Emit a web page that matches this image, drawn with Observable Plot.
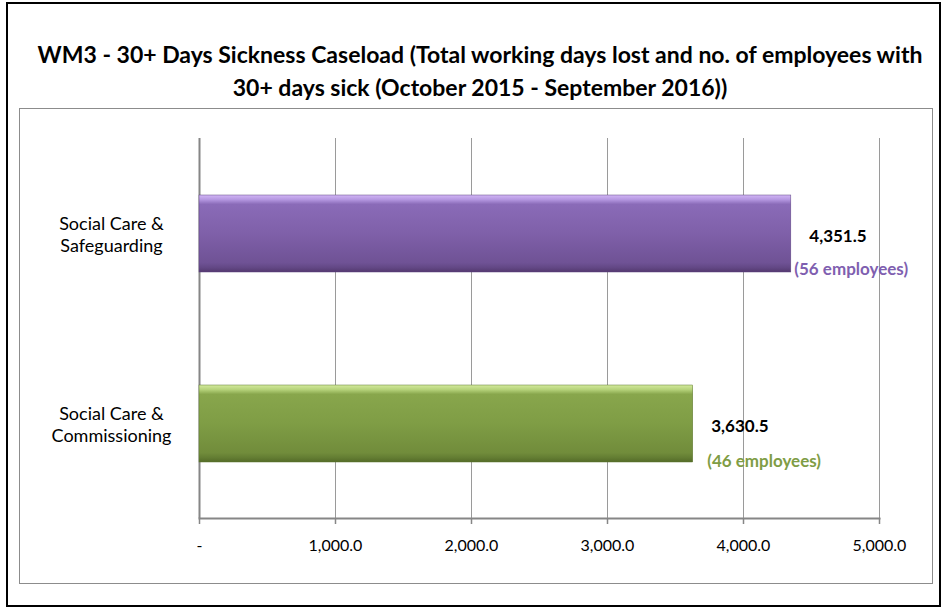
<!DOCTYPE html>
<html><head><meta charset="utf-8">
<script src="https://cdn.jsdelivr.net/npm/d3@7"></script>
<script src="https://cdn.jsdelivr.net/npm/@observablehq/plot@0.6"></script>
<style>
body{margin:0;background:#fff;font-family:Lato,"Open Sans",sans-serif;}
#outer{position:absolute;left:6px;top:2px;width:935px;height:605px;border:2px solid #000;box-sizing:border-box;}
#title{position:absolute;left:20px;width:920px;top:38px;text-align:center;font-weight:bold;font-size:23px;line-height:33px;color:#000;white-space:nowrap;}
#inner{position:absolute;left:19px;top:108px;width:914px;height:476px;border:1px solid #8c8c8c;box-sizing:border-box;}
#chart{position:absolute;left:19px;top:108px;}
</style></head><body>
<div id="outer"></div>
<div id="title">WM3 - 30+ Days Sickness Caseload (Total working days lost and no. of employees with<br>30+ days sick (October 2015 - September 2016))</div>
<div id="inner"></div>
<div id="chart"></div>
<script>
const categories = ["Social Care & Safeguarding", "Social Care & Commissioning"];
const categoryLines = ["Social Care &\nSafeguarding", "Social Care &\nCommissioning"];
const daysLost = [4351.5, 3630.5];
const employees = [56, 46];
const xTicks = [0, 1000, 2000, 3000, 4000, 5000];

const data = categories.map((c, i) => ({cat: c, label: categoryLines[i], value: daysLost[i], emp: employees[i]}));

const W = 913, H = 475, mT = 30, mB = 65, mL = 180, mR = 53;
const step = (H - mT - mB) / categories.length;
const fmt = d3.format(",.1f");

const plot = Plot.plot({
  width: W, height: H,
  marginLeft: mL, marginRight: mR, marginTop: mT, marginBottom: mB,
  x: {domain: [0, 5000], axis: null, label: null},
  y: {domain: categories, paddingInner: 0.595, paddingOuter: 0.2975, axis: null},
  style: {fontFamily: "Lato, 'Open Sans', sans-serif", fontSize: "16px", color: "#000", background: "transparent", overflow: "visible"},
  marks: [
    Plot.ruleX(xTicks.slice(1), {stroke: "#9a9a9a", strokeWidth: 1}),
    Plot.ruleX([0], {stroke: "#868686", strokeWidth: 2}),
    Plot.ruleY(data, {y: "cat", x1: 0, x2: 0, dx: -6, dy: -step / 2, stroke: "#868686", strokeWidth: 2}),
    Plot.ruleY(data, {y: "cat", x1: 0, x2: 0, dx: -6, dy: step / 2, stroke: "#868686", strokeWidth: 2}),
    Plot.barX(data.filter(d => d.cat === categories[0]), {x: "value", y: "cat", fill: "url(#gradPurple)", stroke: "#5d4380", strokeWidth: 0.5}),
    Plot.barX(data.filter(d => d.cat === categories[1]), {x: "value", y: "cat", fill: "url(#gradGreen)", stroke: "#5e7730", strokeWidth: 0.5}),
    Plot.frame({anchor: "bottom", stroke: "#868686", strokeWidth: 2}),
    Plot.axisX({ticks: xTicks, tickSize: 6, tickPadding: 15, stroke: "#868686", strokeWidth: 1.5, label: null,
      tickFormat: d => d === 0 ? "-" : fmt(d), fontSize: 16, fill: "#000"}),
    Plot.text(data, {y: "cat", text: "label", frameAnchor: "left", dx: -88, textAnchor: "middle", lineHeight: 1.25, fontSize: 18, fill: "#000"}),
    Plot.text(data, {x: "value", y: "cat", text: d => fmt(d.value), textAnchor: "start", dx: 18, dy: 3, fontWeight: "bold", fontSize: 17, fill: "#000"}),
    Plot.text(data.filter(d => d.cat === categories[0]), {x: "value", y: "cat", text: d => `(${d.emp} employees)`, textAnchor: "start", dx: 3, dy: 36, fontWeight: "bold", fontSize: 17, fill: "#7f5fb0"}),
    Plot.text(data.filter(d => d.cat === categories[1]), {x: "value", y: "cat", text: d => `(${d.emp} employees)`, textAnchor: "start", dx: 14, dy: 38, fontWeight: "bold", fontSize: 17, fill: "#7f9d45"})
  ]
});

const ns = "http://www.w3.org/2000/svg";
const defs = document.createElementNS(ns, "defs");
function grad(id, stops) {
  const g = document.createElementNS(ns, "linearGradient");
  g.setAttribute("id", id);
  g.setAttribute("x1", "0"); g.setAttribute("y1", "0"); g.setAttribute("x2", "0"); g.setAttribute("y2", "1");
  for (const [o, c] of stops) {
    const s = document.createElementNS(ns, "stop");
    s.setAttribute("offset", o); s.setAttribute("stop-color", c);
    g.appendChild(s);
  }
  defs.appendChild(g);
}
grad("gradPurple", [[0, "#d2b6f6"], [0.06, "#b497e0"], [0.12, "#8a6bb8"], [0.5, "#7f60a9"], [0.88, "#6f5295"], [0.94, "#634886"], [1, "#54396f"]]);
grad("gradGreen", [[0, "#d3ea9c"], [0.06, "#b5d27a"], [0.12, "#88a64c"], [0.5, "#7f9d45"], [0.88, "#718c3b"], [0.94, "#647e33"], [1, "#546b28"]]);
plot.insertBefore(defs, plot.firstChild);
document.getElementById("chart").appendChild(plot);
</script>
</body></html>
